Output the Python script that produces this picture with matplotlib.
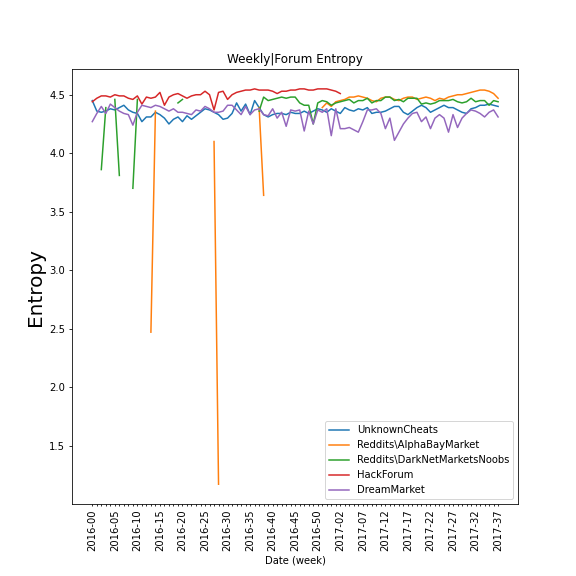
import matplotlib
matplotlib.use('Agg')
import matplotlib.pyplot as plt
import numpy as np

nan = np.nan

# week labels 2016-00 .. 2017-37
weeks = ['2016-%02d' % w for w in range(53)] + ['2017-%02d' % w for w in range(38)]

unknown_cheats = [4.45, 4.36, 4.35, 4.36, 4.38, 4.37, 4.39, 4.41, 4.37, 4.35,
                  4.34, 4.27, 4.31, 4.31, 4.35, 4.33, 4.30, 4.25, 4.29, 4.31,
                  4.27, 4.32, 4.29, 4.32, 4.35, 4.38, 4.37, 4.35, 4.33, 4.29,
                  4.30, 4.34, 4.43, 4.36, 4.42, 4.33, 4.45, 4.39, 4.33, 4.31,
                  4.33, 4.34, 4.34, 4.33, 4.35, 4.34, 4.34, 4.36, 4.34, 4.36,
                  4.38, 4.37, 4.35, 4.38, 4.36, 4.34, 4.39, 4.37, 4.36, 4.38,
                  4.37, 4.39, 4.34, 4.35, 4.35, 4.36, 4.38, 4.40, 4.40, 4.35,
                  4.33, 4.36, 4.39, 4.41, 4.39, 4.35, 4.37, 4.39, 4.41, 4.39,
                  4.39, 4.37, 4.35, 4.34, 4.38, 4.39, 4.41, 4.41, 4.42, 4.41,
                  4.40]

alphabay = [nan, nan, nan, nan, nan, nan, nan, nan, nan, nan,
            nan, nan, nan, 2.47, 4.36, nan, nan, nan, nan, nan,
            nan, nan, nan, nan, nan, nan, nan, 4.10, 1.17, nan,
            nan, nan, nan, nan, nan, nan, nan, 4.39, 3.64, nan,
            nan, nan, nan, nan, nan, nan, nan, nan, nan, nan,
            nan, 4.39, 4.43, 4.40, 4.44, 4.45, 4.46, 4.48, 4.48, 4.49,
            4.48, 4.47, 4.45, 4.44, 4.47, 4.48, 4.48, 4.46, 4.45, 4.47,
            4.48, 4.48, 4.46, 4.47, 4.48, 4.47, 4.45, 4.47, 4.46, 4.48,
            4.49, 4.50, 4.50, 4.51, 4.52, 4.53, 4.54, 4.54, 4.53, 4.51,
            4.47]

dnm_noobs = [nan, nan, 3.86, 4.39, nan, 4.46, 3.81, nan, nan, 3.70,
             4.46, nan, nan, nan, nan, nan, nan, nan, nan, 4.43,
             4.46, nan, nan, nan, nan, nan, nan, nan, nan, nan,
             nan, nan, nan, nan, nan, nan, nan, 4.36, 4.48, 4.45,
             4.46, 4.47, 4.48, 4.47, 4.48, 4.48, 4.43, 4.41, 4.41, 4.25,
             4.43, 4.45, 4.44, 4.41, 4.43, 4.44, 4.45, 4.46, 4.43, 4.45,
             4.45, 4.47, 4.43, 4.45, 4.45, 4.48, 4.48, 4.45, 4.46, 4.44,
             4.47, 4.47, 4.47, 4.42, 4.43, 4.42, 4.43, 4.45, 4.45, 4.45,
             4.46, 4.44, 4.43, 4.44, 4.47, 4.44, 4.45, 4.45, 4.41, 4.45,
             4.44]

hackforum = [4.44, 4.47, 4.49, 4.49, 4.48, 4.50, 4.49, 4.49, 4.47, 4.46,
             4.49, 4.42, 4.48, 4.47, 4.48, 4.52, 4.41, 4.48, 4.50, 4.51,
             4.49, 4.47, 4.49, 4.50, 4.50, 4.53, 4.50, 4.37, 4.52, 4.53,
             4.46, 4.50, 4.52, 4.53, 4.54, 4.54, 4.55, 4.54, 4.54, 4.54,
             4.53, 4.51, 4.53, 4.53, 4.54, 4.54, 4.55, 4.55, 4.54, 4.54,
             4.55, 4.55, 4.55, 4.54, 4.53, 4.51] + [nan] * 35

dreammarket = [4.27, 4.34, 4.40, 4.34, 4.42, 4.39, 4.36, 4.34, 4.33, 4.24,
               4.35, 4.41, 4.40, 4.39, 4.41, 4.40, 4.38, 4.36, 4.38, 4.35,
               4.35, 4.34, 4.33, 4.37, 4.36, 4.40, 4.38, 4.35, 4.35, 4.36,
               4.41, 4.41, 4.37, 4.33, 4.40, 4.33, 4.37, 4.38, 4.33, 4.32,
               4.38, 4.30, 4.35, 4.23, 4.37, 4.36, 4.37, 4.19, 4.36, 4.25,
               4.37, 4.35, 4.38, 4.15, 4.38, 4.21, 4.21, 4.22, 4.20, 4.18,
               4.27, 4.37, 4.37, 4.38, 4.34, 4.21, 4.30, 4.11, 4.18, 4.25,
               4.30, 4.34, 4.35, 4.27, 4.31, 4.21, 4.30, 4.33, 4.30, 4.18,
               4.33, 4.22, 4.30, 4.34, 4.37, 4.36, 4.34, 4.31, 4.35, 4.37,
               4.31]

series = [
    ('UnknownCheats', unknown_cheats),
    ('Reddits\\AlphaBayMarket', alphabay),
    ('Reddits\\DarkNetMarketsNoobs', dnm_noobs),
    ('HackForum', hackforum),
    ('DreamMarket', dreammarket),
]

fig, ax = plt.subplots(figsize=(8, 8), dpi=72)
fig.subplots_adjust(bottom=0.125)

x = np.arange(len(weeks))
for name, vals in series:
    ax.plot(x, np.array(vals, dtype=float), label=name)

ax.set_xticks(x)
ax.set_xticklabels([w if i % 5 == 0 else '' for i, w in enumerate(weeks)], rotation=90)
ax.tick_params(axis='x', length=2)

ax.set_title('Weekly|Forum Entropy')
ax.set_xlabel('Date (week)')
ax.set_ylabel('Entropy', fontsize=20)
ax.legend(loc='lower right')

fig.savefig('out.png', dpi=72)
